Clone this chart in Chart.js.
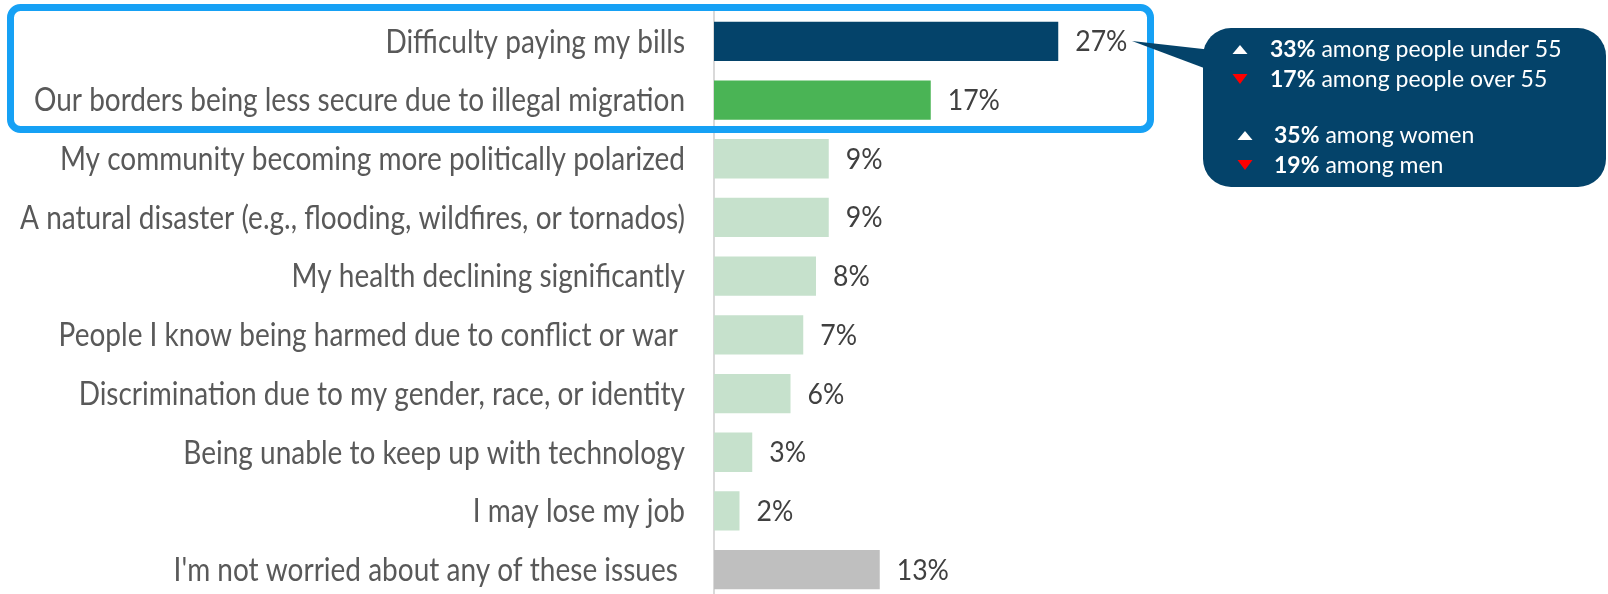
<!DOCTYPE html>
<html>
<head>
<meta charset="utf-8">
<script src="https://cdn.jsdelivr.net/npm/chart.js@4.4.1/dist/chart.umd.min.js"></script>
<style>
  html, body { margin: 0; padding: 0; background: #fff; overflow: hidden; }
  #wrap { position: relative; width: 1608px; height: 605px; }
</style>
</head>
<body>
<div id="wrap"><canvas id="worries"></canvas></div>
<script>
// survey answers, top to bottom
const categories = [
  'Difficulty paying my bills',
  'Our borders being less secure due to illegal migration',
  'My community becoming more politically polarized',
  'A natural disaster (e.g., flooding, wildfires, or tornados)',
  'My health declining significantly',
  'People I know being harmed due to conflict or war ',
  'Discrimination due to my gender, race, or identity',
  'Being unable to keep up with technology',
  'I may lose my job',
  "I'm not worried about any of these issues "
];
const values = [27, 17, 9, 9, 8, 7, 6, 3, 2, 13];

// breakdown shown in the callout next to the top answer
const breakdownValues = ['33%', '17%', '35%', '19%'];
const breakdownGroups = ['among people under 55', 'among people over 55', 'among women', 'among men'];
const breakdownUp = [true, false, true, false];

const NAVY = '#04436a';
const GREEN = '#4ab455';
const MINT = '#c6e1cc';
const GREY = '#bfbfbf';
const HIGHLIGHT = '#16a1f5';

const barColors = [NAVY, GREEN, MINT, MINT, MINT, MINT, MINT, MINT, MINT, GREY];

// condensed text: draw with a horizontal squeeze
function squashText(ctx, text, x, y, align, sx) {
  ctx.save();
  ctx.translate(x, y);
  ctx.scale(sx, 1);
  ctx.textAlign = align;
  ctx.fillText(text, 0, 0);
  ctx.restore();
}

const labelsPlugin = {
  id: 'labels',
  afterDatasetsDraw(chart) {
    const ctx = chart.ctx;
    const xs = chart.scales.x, ys = chart.scales.y;
    ctx.save();
    ctx.textBaseline = 'middle';
    categories.forEach((c, i) => {
      const y = ys.getPixelForValue(i);
      ctx.font = '32px Lato';
      ctx.fillStyle = '#595959';
      squashText(ctx, c, 685, y + 1, 'right', 0.875);
      ctx.font = '28px Lato';
      ctx.fillStyle = '#404040';
      squashText(ctx, values[i] + '%', xs.getPixelForValue(values[i]) + 17, y + 1, 'left', 0.95);
    });
    ctx.restore();
  },
  afterDraw(chart) {
    const ctx = chart.ctx;
    ctx.save();

    // frame round the two leading answers
    ctx.strokeStyle = HIGHLIGHT;
    ctx.lineWidth = 7;
    ctx.beginPath();
    ctx.roundRect(10.5, 7.5, 1140, 122, 10);
    ctx.stroke();

    // callout bubble
    ctx.fillStyle = NAVY;
    ctx.beginPath();
    ctx.roundRect(1203, 28, 403, 159, 28);
    ctx.fill();
    ctx.beginPath();
    ctx.moveTo(1132, 41);
    ctx.lineTo(1212, 50);
    ctx.lineTo(1212, 71);
    ctx.closePath();
    ctx.fill();

    const rows = [57, 87, 143, 173];
    const textX = [1270, 1270, 1274, 1274];
    const markX = [1240, 1240, 1245, 1245];
    ctx.textBaseline = 'alphabetic';
    ctx.textAlign = 'left';
    rows.forEach((by, i) => {
      const cx = markX[i];
      ctx.beginPath();
      if (breakdownUp[i]) {
        ctx.fillStyle = '#ffffff';
        ctx.moveTo(cx - 7.5, by - 3);
        ctx.lineTo(cx + 7.5, by - 3);
        ctx.lineTo(cx, by - 12);
      } else {
        ctx.fillStyle = '#ff0000';
        ctx.moveTo(cx - 7.5, by - 13);
        ctx.lineTo(cx + 7.5, by - 13);
        ctx.lineTo(cx, by - 3);
      }
      ctx.closePath();
      ctx.fill();

      ctx.fillStyle = '#ffffff';
      ctx.font = 'bold 23px Lato';
      ctx.fillText(breakdownValues[i], textX[i], by);
      const w = ctx.measureText(breakdownValues[i]).width;
      ctx.font = '23px Lato';
      ctx.fillText(' ' + breakdownGroups[i], textX[i] + w, by);
    });
    ctx.restore();
  }
};

new Chart(document.getElementById('worries'), {
  type: 'bar',
  data: {
    labels: categories,
    datasets: [{
      data: values,
      backgroundColor: barColors,
      borderWidth: 0,
      barPercentage: 0.67,
      categoryPercentage: 1
    }]
  },
  options: {
    indexAxis: 'y',
    responsive: true,
    maintainAspectRatio: false,
    animation: false,
    devicePixelRatio: 1,
    layout: { padding: { left: 0, top: 12, right: 384, bottom: 6 } },
    plugins: { legend: { display: false }, tooltip: { enabled: false } },
    scales: {
      x: { min: 0, max: 40, display: false },
      y: {
        ticks: { display: false },
        grid: { display: false },
        border: { color: '#d9d9d9', width: 2 },
        afterFit(scale) { scale.width = 714; }
      }
    }
  },
  plugins: [labelsPlugin]
});
</script>
</body>
</html>
